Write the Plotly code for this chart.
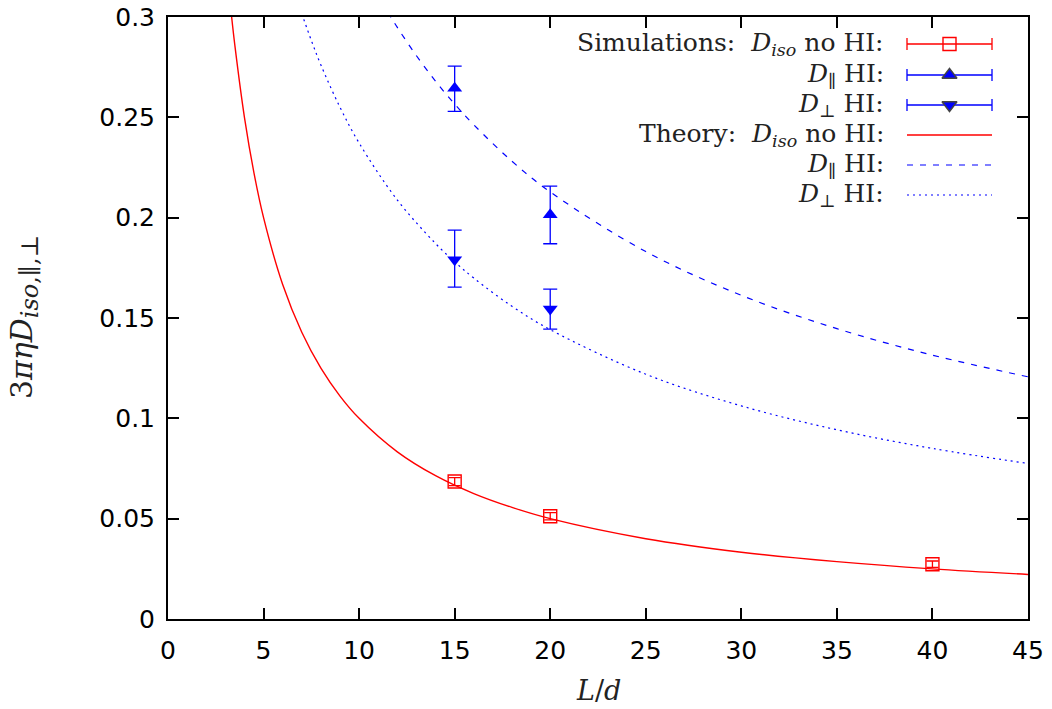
import plotly.graph_objects as go

# ---- data ----
sim_x_iso = [15, 20, 40]
sim_y_iso = [0.0685, 0.0512, 0.0273]
sim_e_iso = [0.0020, 0.0018, 0.0016]

sim_x_par = [15, 20]
sim_y_par = [0.2645, 0.2015]
sim_eup_par = [0.0110, 0.0142]
sim_edn_par = [0.0115, 0.0145]

sim_x_perp = [15, 20]
sim_y_perp = [0.1790, 0.1545]
sim_eup_perp = [0.0148, 0.0099]
sim_edn_perp = [0.0136, 0.0100]

th_x_iso = [3.33, 3.5, 4, 4.5, 5, 6, 7, 8, 9, 10, 12, 14, 16, 18, 20, 25, 30, 35, 40, 45]
th_y_iso = [0.300, 0.2857, 0.250, 0.2222, 0.200, 0.1667, 0.1429, 0.125, 0.1111, 0.100,
            0.0833, 0.0714, 0.0625, 0.0556, 0.050, 0.040, 0.0333, 0.0286, 0.025, 0.0222]

th_x_par = [11.5, 12, 13, 14, 15, 16, 18, 20, 25, 30, 35, 40, 45]
th_y_par = [0.3025, 0.2948, 0.2807, 0.2680, 0.2566, 0.2463, 0.2281, 0.2128, 0.1831,
            0.1613, 0.1447, 0.1315, 0.1207]

th_x_perp = [7, 7.5, 8, 9, 10, 12, 14, 15, 16, 18, 20, 25, 30, 35, 40, 45]
th_y_perp = [0.3017, 0.2883, 0.2761, 0.2550, 0.2372, 0.2088, 0.1871, 0.1780, 0.1699,
             0.1558, 0.1442, 0.1220, 0.1062, 0.0943, 0.0850, 0.0775]

x_ticks = [0, 5, 10, 15, 20, 25, 30, 35, 40, 45]
y_ticks = [0, 0.05, 0.1, 0.15, 0.2, 0.25, 0.3]
y_ticklabels = ["0", "0.05", "0.1", "0.15", "0.2", "0.25", "0.3"]

legend_labels = [
    "Simulations:  <i>D</i><sub><i>iso</i></sub> no HI:",
    "<i>D</i><sub>∥</sub> HI:",
    "<i>D</i><sub>⊥</sub> HI:",
    "Theory:  <i>D</i><sub><i>iso</i></sub> no HI:",
    "<i>D</i><sub>∥</sub> HI:",
    "<i>D</i><sub>⊥</sub> HI:",
]
x_title = "<i>L</i>/<i>d</i>"
y_title = "3<i>πηD</i><sub><span style='font-size:24px'><i>iso</i>,∥,⊥</span></sub>"

RED = "#ff0000"
BLUE = "#0000ff"
SERIF = "DejaVu Serif"
W, H = 1052, 709
L, R, T, B = 168, 24, 17, 90
PW, PH = W - L - R, H - T - B

fig = go.Figure()

# theory curves
fig.add_trace(go.Scatter(x=th_x_iso, y=th_y_iso, mode="lines", line=dict(color=RED, width=1.4, shape="spline"), showlegend=False))
fig.add_trace(go.Scatter(x=th_x_par, y=th_y_par, mode="lines", line=dict(color=BLUE, width=1.2, dash="6px,7px", shape="spline"), showlegend=False))
fig.add_trace(go.Scatter(x=th_x_perp, y=th_y_perp, mode="lines", line=dict(color=BLUE, width=1.2, dash="2px,4px", shape="spline"), showlegend=False))

# simulations
fig.add_trace(go.Scatter(x=sim_x_iso, y=sim_y_iso, mode="markers",
                         marker=dict(symbol="square-open", size=13, color=RED, line=dict(width=1.4)),
                         error_y=dict(type="data", array=sim_e_iso, color=RED, thickness=1.3, width=6),
                         showlegend=False))
fig.add_trace(go.Scatter(x=sim_x_par, y=sim_y_par, mode="markers",
                         marker=dict(symbol="triangle-up", size=13, color=BLUE),
                         error_y=dict(type="data", array=sim_eup_par, arrayminus=sim_edn_par, color=BLUE, thickness=1.3, width=7),
                         showlegend=False))
fig.add_trace(go.Scatter(x=sim_x_perp, y=sim_y_perp, mode="markers",
                         marker=dict(symbol="triangle-down", size=13, color=BLUE),
                         error_y=dict(type="data", array=sim_eup_perp, arrayminus=sim_edn_perp, color=BLUE, thickness=1.3, width=7),
                         showlegend=False))

# ---- custom legend (sample on the right of the text) ----
def px2x(px):
    return (px - L) / PW

def px2y(py):
    return (H - B - py) / PH

row_y = [44, 75, 105, 135, 165, 195]
text_right = 886
s0, s1 = 907, 992
sc = (s0 + s1) / 2
half = (s1 - s0) / 2 / PW

for lbl, ry in zip(legend_labels, row_y):
    fig.add_annotation(xref="paper", yref="paper", x=px2x(text_right), y=px2y(ry),
                       text=lbl, showarrow=False, xanchor="right", yanchor="middle",
                       font=dict(family=SERIF, size=25, color="#222"))

leg_styles = [
    dict(symbol="square-open", color=RED, err=RED),
    dict(symbol="triangle-up", color=BLUE, err=BLUE),
    dict(symbol="triangle-down", color=BLUE, err=BLUE),
]
for st, ry in zip(leg_styles, row_y[:3]):
    fig.add_trace(go.Scatter(x=[px2x(sc)], y=[px2y(ry)], xaxis="x2", yaxis="y2", mode="markers",
                             marker=dict(symbol=st["symbol"], size=13, color=st["color"], line=dict(width=1.4)),
                             error_x=dict(type="data", array=[half], color=st["err"], thickness=1.3, width=6),
                             showlegend=False, hoverinfo="skip"))
line_styles = [dict(color=RED, width=1.4, dash="solid"),
               dict(color=BLUE, width=1.2, dash="6px,7px"),
               dict(color=BLUE, width=1.2, dash="2px,4px")]
for ls, ry in zip(line_styles, row_y[3:]):
    fig.add_trace(go.Scatter(x=[px2x(s0), px2x(s1)], y=[px2y(ry)] * 2, xaxis="x2", yaxis="y2", mode="lines",
                             line=ls, showlegend=False, hoverinfo="skip"))

# axis titles as annotations
fig.add_annotation(xref="paper", yref="paper", x=px2x(598), y=px2y(691), text=x_title, showarrow=False,
                   xanchor="center", yanchor="middle", font=dict(family=SERIF, size=27, color="#222"))
fig.add_annotation(xref="paper", yref="paper", x=px2x(24), y=px2y(317), text=y_title, showarrow=False,
                   textangle=-90, xanchor="center", yanchor="middle", font=dict(family=SERIF, size=30, color="#222"))

tickfont = dict(family="DejaVu Sans", size=25, color="#000")
common = dict(ticks="inside", ticklen=11, tickwidth=1.5, tickcolor="#000", showline=True, linecolor="#000",
              linewidth=2, mirror="ticks", showgrid=False, zeroline=False, tickfont=tickfont, automargin=False)
fig.update_layout(
    width=W, height=H,
    margin=dict(l=L, r=R, t=T, b=B, autoexpand=False),
    plot_bgcolor="white", paper_bgcolor="white",
    xaxis=dict(range=[0, 45], tickvals=x_ticks, ticklabelstandoff=8, **common),
    yaxis=dict(range=[0, 0.3], tickvals=y_ticks, ticktext=y_ticklabels, ticklabelstandoff=6, **common),
    xaxis2=dict(range=[0, 1], overlaying="x", visible=False, fixedrange=True),
    yaxis2=dict(range=[0, 1], overlaying="y", visible=False, fixedrange=True),
    showlegend=False,
)

fig.write_html("out.html")
